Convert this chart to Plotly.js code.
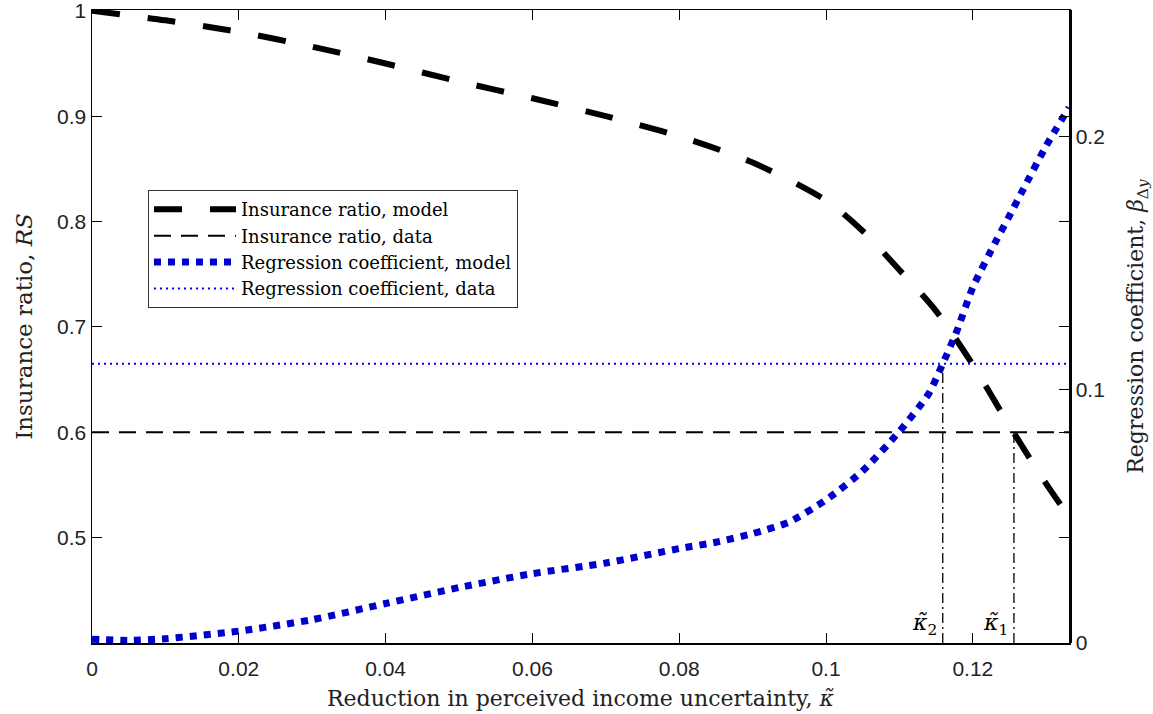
<!DOCTYPE html>
<html>
<head>
<meta charset="utf-8">
<script src="https://cdn.plot.ly/plotly-3.0.1.min.js"></script>
<style>html,body{margin:0;padding:0;background:#fff;}#chart{width:1153px;height:714px;}</style>
</head>
<body>
<div id="chart"></div>
<script>
// Insurance ratio, model (left axis)
const kappaRS = [0, 0.01, 0.02, 0.03, 0.04, 0.05, 0.06, 0.07, 0.08, 0.09, 0.1, 0.105, 0.11, 0.115, 0.12, 0.125, 0.13, 0.1331];
const rsModel = [1.0, 0.991, 0.980, 0.966, 0.950, 0.933, 0.917, 0.900, 0.881, 0.856, 0.820, 0.791, 0.754, 0.715, 0.664, 0.606, 0.551, 0.520];
// Regression coefficient, model (right axis)
const kappaBeta = [0, 0.005, 0.01, 0.02, 0.03, 0.04, 0.05, 0.06, 0.07, 0.08, 0.085, 0.09, 0.095, 0.1, 0.105, 0.11, 0.114, 0.1159, 0.1178, 0.12, 0.1232, 0.125, 0.1269, 0.13, 0.1331];
const betaModel = [0.0015, 0.001, 0.0017, 0.0047, 0.0092, 0.0156, 0.0219, 0.0274, 0.0316, 0.0373, 0.0398, 0.0432, 0.0478, 0.0565, 0.068, 0.0836, 0.0985, 0.1103, 0.123, 0.1405, 0.159, 0.1688, 0.1794, 0.1964, 0.2115];
// Data values
const xRange = [0, 0.1331];
const rsData = 0.6;
const betaData = 0.1103;
const kappa1 = 0.1256;
const kappa2 = 0.1159;
const xTicks = [0, 0.02, 0.04, 0.06, 0.08, 0.1, 0.12];
const xTickText = ['0', '0.02', '0.04', '0.06', '0.08', '0.1', '0.12'];
const yTicks = [0.5, 0.6, 0.7, 0.8, 0.9, 1];
const yTickText = ['0.5', '0.6', '0.7', '0.8', '0.9', '1'];
const y2Ticks = [0, 0.1, 0.2];
const y2TickText = ['0', '0.1', '0.2'];

const serif = 'DejaVu Serif, serif';
const sans = 'Liberation Sans, Arial, sans-serif';
const blue = '#0000cc';
const kap = '<span style="font-family:DejaVu Serif"><i>κ̃</i></span>';

const traces = [
  {x: kappaRS, y: rsModel, type: 'scatter', mode: 'lines', name: 'Insurance ratio, model',
   line: {color: '#000', width: 6, dash: '28px,28px', shape: 'spline', smoothing: 0.8}, yaxis: 'y'},
  {x: xRange, y: [rsData, rsData], type: 'scatter', mode: 'lines', name: 'Insurance ratio, data',
   line: {color: '#000', width: 2, dash: '17px,10px'}, yaxis: 'y'},
  {x: [kappa1, kappa1], y: [0.4, rsData], type: 'scatter', mode: 'lines', showlegend: false,
   line: {color: '#000', width: 1.3, dash: '10px,4px,2px,4px'}, yaxis: 'y', hoverinfo: 'skip'},
  {x: kappaBeta, y: betaModel, type: 'scatter', mode: 'lines', name: 'Regression coefficient, model',
   line: {color: blue, width: 7, dash: '7px,7px', shape: 'spline', smoothing: 0.6}, yaxis: 'y2'},
  {x: xRange, y: [betaData, betaData], type: 'scatter', mode: 'lines', name: 'Regression coefficient, data',
   line: {color: '#0000ff', width: 2, dash: '2px,4px'}, yaxis: 'y2'},
  {x: [kappa2, kappa2], y: [0, betaData], type: 'scatter', mode: 'lines', showlegend: false,
   line: {color: '#000', width: 1.3, dash: '10px,4px,2px,4px'}, yaxis: 'y2', hoverinfo: 'skip'}
];

const layout = {
  width: 1153, height: 714,
  margin: {l: 92, r: 84, t: 10, b: 71},
  paper_bgcolor: '#fff', plot_bgcolor: '#fff',
  showlegend: true,
  legend: {x: 0.0573, y: 0.7156, xanchor: 'left', yanchor: 'top',
    bgcolor: '#fff', bordercolor: '#333', borderwidth: 1,
    font: {family: serif, size: 18, color: '#000'}, itemwidth: 82, tracegroupgap: 0},
  xaxis: {range: xRange, tickvals: xTicks, ticktext: xTickText, ticks: 'inside', ticklen: 10,
    tickcolor: '#000', showline: true, linecolor: '#000', linewidth: 1.5, mirror: 'ticks',
    showgrid: false, zeroline: false, tickfont: {family: sans, size: 21, color: '#222'},
    ticklabeloverflow: 'allow', ticklabelstandoff: 6,
    title: {text: 'Reduction in perceived income uncertainty, ' + kap, font: {family: serif, size: 22, color: '#222'}, standoff: 12}},
  yaxis: {range: [0.4, 1.0008], tickvals: yTicks, ticktext: yTickText, ticks: 'inside', ticklen: 10,
    tickcolor: '#000', showline: true, linecolor: '#000', linewidth: 1.5, mirror: 'ticks',
    showgrid: false, zeroline: false, tickfont: {family: sans, size: 21, color: '#222'},
    ticklabeloverflow: 'allow',
    title: {text: 'Insurance ratio, <i>RS</i>', font: {family: serif, size: 23, color: '#222'}, standoff: 18}},
  yaxis2: {range: [0, 0.25], overlaying: 'y', side: 'right', tickvals: y2Ticks, ticktext: y2TickText,
    ticks: 'inside', ticklen: 10, tickcolor: '#000', showline: true, linecolor: '#000', linewidth: 2.5,
    showgrid: false, zeroline: false, tickfont: {family: sans, size: 21, color: '#222'},
    ticklabeloverflow: 'allow',
    title: {text: 'Regression coefficient, <i>β</i><sub>Δ<i>y</i></sub>', font: {family: serif, size: 22, color: '#222'}, standoff: 24}},
  annotations: [
    {x: kappa2, y: 0.418, xref: 'x', yref: 'y', text: kap + '<sub>2</sub>', showarrow: false,
     xanchor: 'right', yanchor: 'middle', xshift: -4, font: {family: serif, size: 22, color: '#000'}},
    {x: kappa1, y: 0.418, xref: 'x', yref: 'y', text: kap + '<sub>1</sub>', showarrow: false,
     xanchor: 'right', yanchor: 'middle', xshift: -4, font: {family: serif, size: 22, color: '#000'}}
  ]
};

Plotly.newPlot('chart', traces, layout, {displayModeBar: false, staticPlot: true});
</script>
</body>
</html>
